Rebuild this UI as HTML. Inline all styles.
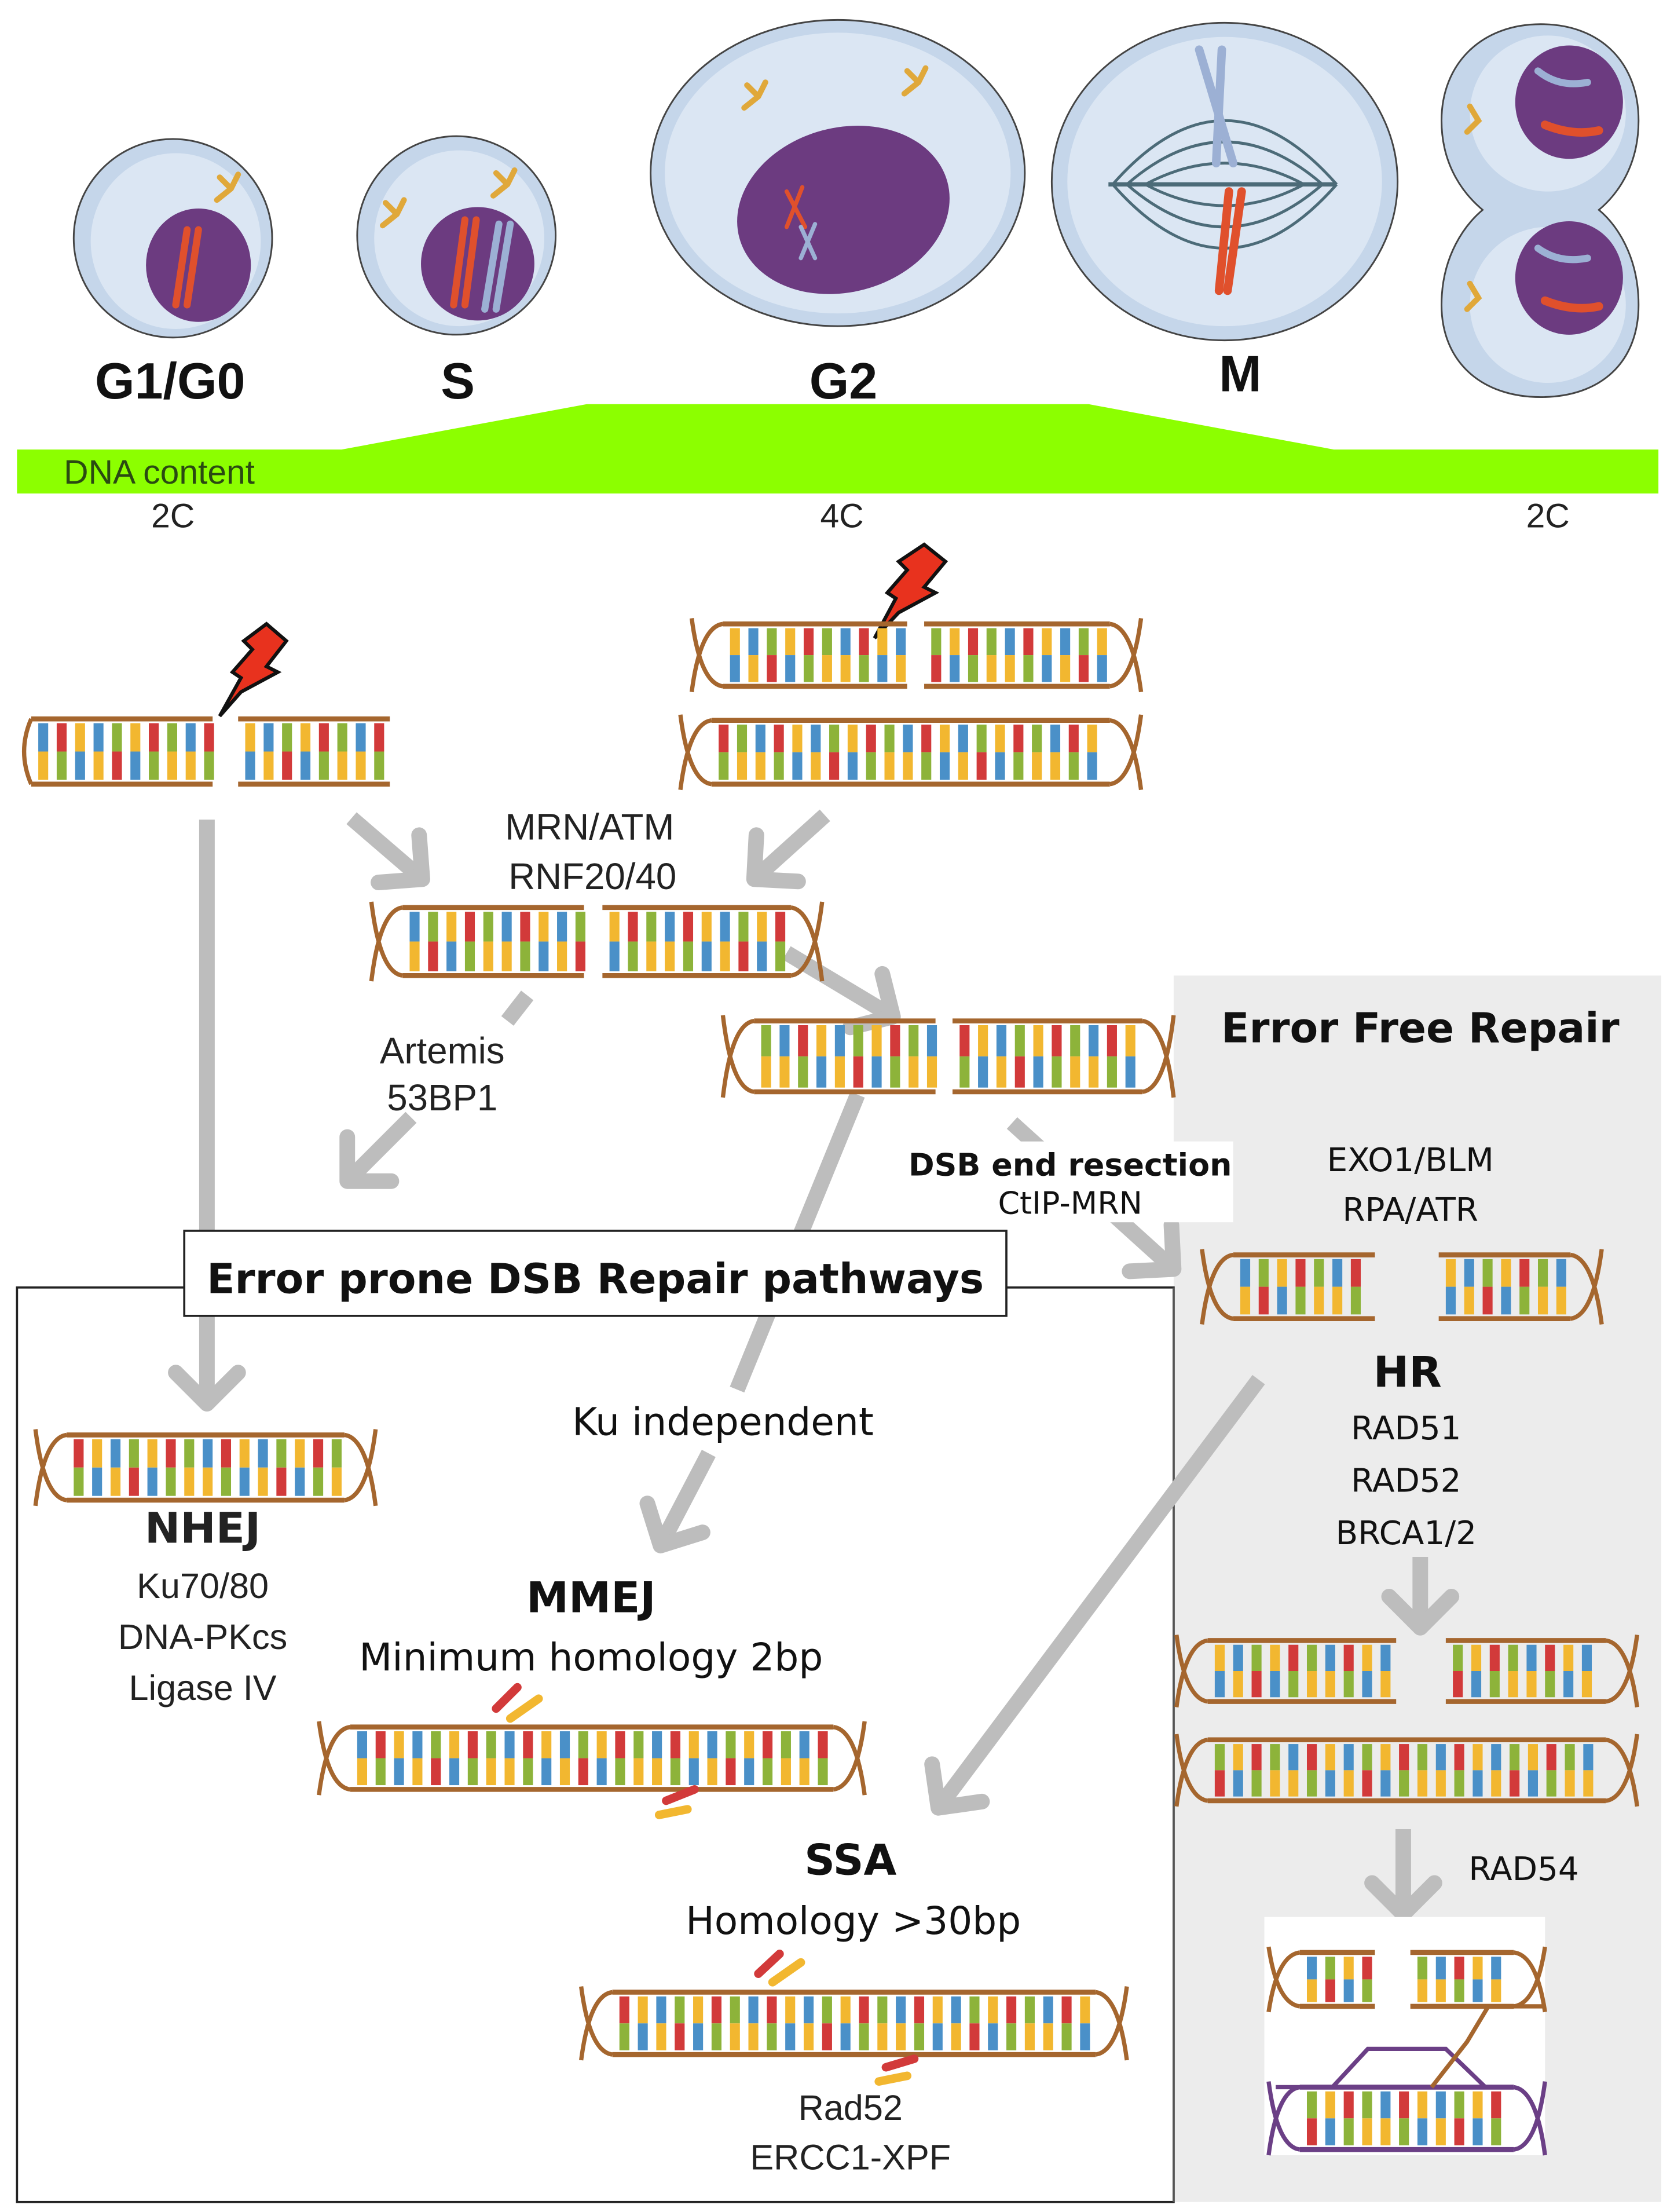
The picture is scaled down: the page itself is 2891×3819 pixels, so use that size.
<!DOCTYPE html>
<html><head><meta charset="utf-8">
<style>
html,body{margin:0;padding:0;background:#fff;}
svg{display:block;}
.c{font-family:"Liberation Sans Narrow","Liberation Sans",sans-serif;}
.v{font-family:"DejaVu Sans","Liberation Sans",sans-serif;}
</style></head>
<body>
<svg id="s" width="2891" height="3819" viewBox="0 0 1181 1560" xmlns="http://www.w3.org/2000/svg">
<defs>
<marker id="ah" markerUnits="userSpaceOnUse" markerWidth="60" markerHeight="60" refX="30" refY="30" orient="auto" viewBox="0 0 60 60">
<polyline points="8,8 30,30 8,52" fill="none" stroke="#bdbdbd" stroke-width="11" stroke-linecap="round" stroke-linejoin="round"/>
</marker>
</defs>
<rect width="1181" height="1560" fill="#fff"/>

<!-- Cells -->
<g stroke="#444" stroke-width="1.2">
<ellipse cx="122" cy="168" rx="70" ry="70" fill="#c5d6ea"/>
<ellipse cx="124" cy="170" rx="60" ry="62" fill="#dbe6f3" stroke="none"/>
<ellipse cx="140" cy="187" rx="37" ry="40" fill="#6c3b80" stroke="none"/>
<ellipse cx="322" cy="166" rx="70" ry="70" fill="#c5d6ea"/>
<ellipse cx="324" cy="168" rx="60" ry="62" fill="#dbe6f3" stroke="none"/>
<ellipse cx="337" cy="186" rx="40" ry="40" fill="#6c3b80" stroke="none"/>
<ellipse cx="591" cy="122" rx="132" ry="108" fill="#c5d6ea"/>
<ellipse cx="591" cy="122" rx="122" ry="99" fill="#dbe6f3" stroke="none"/>
<ellipse cx="595" cy="148" rx="76" ry="58" transform="rotate(-15 595 148)" fill="#6c3b80" stroke="none"/>
<ellipse cx="864" cy="128" rx="122" ry="112" fill="#c5d6ea"/>
<ellipse cx="864" cy="128" rx="111" ry="102" fill="#dbe6f3" stroke="none"/>
<path d="M1087,17 C1130,17 1156,45 1156,85 C1156,118 1140,138 1128,148 C1140,158 1156,180 1156,215 C1156,255 1130,280 1087,280 C1045,280 1017,255 1017,215 C1017,180 1034,158 1046,148 C1034,138 1017,118 1017,85 C1017,45 1045,17 1087,17Z" fill="#c5d6ea"/>
<ellipse cx="1092" cy="80" rx="55" ry="55" fill="#dbe6f3" stroke="none"/>
<ellipse cx="1092" cy="215" rx="55" ry="55" fill="#dbe6f3" stroke="none"/>
<ellipse cx="1107" cy="72" rx="38" ry="40" fill="#6c3b80" stroke="none"/>
<ellipse cx="1107" cy="196" rx="38" ry="40" fill="#6c3b80" stroke="none"/>
</g>
<!-- spindle -->
<g fill="none" stroke="#4c6b78" stroke-width="2">
<line x1="782" y1="130" x2="942" y2="130" stroke-width="3"/>
<path d="M785,130 Q864,40 943,130"/><path d="M795,130 Q864,70 933,130"/><path d="M808,130 Q864,100 920,130"/>
<path d="M785,130 Q864,220 943,130"/><path d="M795,130 Q864,190 933,130"/><path d="M808,130 Q864,160 920,130"/>
</g>
<!-- chromosomes -->
<g stroke-linecap="round" fill="none" stroke-width="5">
<path d="M132,162 L124,215 M140,162 L132,215" stroke="#e0502c"/>
<path d="M328,155 L320,215 M336,155 L328,215" stroke="#e0502c"/>
<path d="M352,158 L342,218 M360,158 L350,218" stroke="#9cb0d4"/>
<path d="M555,135 L568,160 M566,132 L555,160" stroke="#e0502c" stroke-width="3"/>
<path d="M565,160 L575,182 M575,158 L565,182" stroke="#9cb0d4" stroke-width="3"/>
<path d="M846,35 L870,115 M862,35 L858,115" stroke="#9cb0d4" stroke-width="6"/>
<path d="M867,135 L860,205 M876,135 L866,205" stroke="#e0502c" stroke-width="6"/>
<path d="M1085,50 Q1100,62 1120,58" stroke="#9cb0d4"/><path d="M1090,88 Q1110,96 1128,92" stroke="#e0502c" stroke-width="6"/>
<path d="M1085,175 Q1100,186 1120,182" stroke="#9cb0d4"/><path d="M1090,212 Q1110,220 1128,216" stroke="#e0502c" stroke-width="6"/>
</g>
<g stroke="#e0a83a" stroke-width="4" stroke-linecap="round" fill="none">
<path d="M155,125 l8,8 m0,0 l-10,8 m10,-8 l5,-10"/><path d="M350,122 l8,8 m0,0 l-10,8 m10,-8 l5,-10"/><path d="M272,143 l8,8 m0,0 l-10,8 m10,-8 l5,-10"/>
<path d="M527,60 l8,8 m0,0 l-10,8 m10,-8 l5,-10"/><path d="M640,50 l8,8 m0,0 l-10,8 m10,-8 l5,-10"/>
<path d="M1037,75 l6,10 l-8,8"/><path d="M1037,200 l6,10 l-8,8"/>
</g>

<g class="c" font-weight="bold" font-size="36" text-anchor="middle" fill="#111">
<text x="120" y="281">G1/G0</text><text x="323" y="281">S</text><text x="595" y="281">G2</text><text x="875" y="276">M</text>
</g>
<polygon points="12,317 241,317 414,285 768,285 941,317 1170,317 1170,348 12,348" fill="#8cff00"/>
<text class="c" x="45" y="341" font-size="24" fill="#2a4a12">DNA content</text>
<g class="c" font-size="24" text-anchor="middle" fill="#222">
<text x="122" y="372">2C</text><text x="594" y="372">4C</text><text x="1092" y="372">2C</text>
</g>

<!-- panels -->
<rect x="828" y="688" width="344" height="865" fill="#ececec"/>
<rect x="12" y="908" width="816" height="645" fill="none" stroke="#222" stroke-width="1.5"/>
<line x1="828" y1="908" x2="828" y2="1553" stroke="#555" stroke-width="1.5"/>

<!-- arrows -->
<g stroke="#bdbdbd" stroke-width="11" fill="none" stroke-linecap="butt">
<line x1="146" y1="578" x2="146" y2="990" marker-end="url(#ah)"/>
<line x1="248" y1="577" x2="298" y2="620" marker-end="url(#ah)"/>
<line x1="582" y1="575" x2="532" y2="620" marker-end="url(#ah)"/>
<line x1="372" y1="702" x2="358" y2="720"/>
<line x1="290" y1="788" x2="245" y2="833" marker-end="url(#ah)"/>
<line x1="555" y1="672" x2="630" y2="717" marker-end="url(#ah)"/>
<line x1="605" y1="772" x2="520" y2="980"/>
<line x1="500" y1="1025" x2="466" y2="1090" marker-end="url(#ah)"/>
<line x1="714" y1="792" x2="828" y2="895" marker-end="url(#ah)"/>
<line x1="888" y1="973" x2="662" y2="1275" marker-end="url(#ah)"/>
<line x1="1002" y1="1098" x2="1002" y2="1148" marker-end="url(#ah)"/>
<line x1="990" y1="1290" x2="990" y2="1350" marker-end="url(#ah)"/>
</g>

<rect x="640" y="805" width="230" height="57" fill="#fff"/>
<rect x="130" y="868" width="580" height="60" fill="#fff" stroke="#222" stroke-width="1.5"/>
<rect x="892" y="1352" width="198" height="168" fill="#fff"/>

<!-- lightning -->
<g fill="#e8321e" stroke="#111" stroke-width="2.5" stroke-linejoin="miter">
<polygon points="188,440 202,452 188,470 196,474 170,488 155,505 170,478 164,474 178,458 172,452"/>
<polygon points="652,384 667,396 652,414 660,418 634,432 617,450 632,422 626,418 640,402 634,396"/>
</g>

<g id="dna"></g>

<g class="c" font-size="26" text-anchor="middle" fill="#222">
<text x="416" y="592">MRN/ATM</text><text x="418" y="627">RNF20/40</text>
<text x="312" y="750">Artemis</text><text x="312" y="783">53BP1</text>
</g>
<g class="v" text-anchor="middle" fill="#111">
<text x="755" y="829" font-size="22" font-weight="bold">DSB end resection</text>
<text x="755" y="856" font-size="22">CtIP-MRN</text>
<text x="1002" y="735" font-size="29" font-weight="bold">Error Free Repair</text>
<text x="995" y="826" font-size="23">EXO1/BLM</text><text x="995" y="861" font-size="23">RPA/ATR</text>
<text x="993" y="978" font-size="30" font-weight="bold">HR</text>
<text x="992" y="1015" font-size="23">RAD51</text><text x="992" y="1052" font-size="23">RAD52</text><text x="992" y="1089" font-size="23">BRCA1/2</text>
<text x="1075" y="1326" font-size="23">RAD54</text>
<text x="420" y="912" font-size="29" font-weight="bold">Error prone DSB Repair pathways</text>
<text x="510" y="1012" font-size="27">Ku independent</text>
<text x="417" y="1137" font-size="30" font-weight="bold">MMEJ</text>
<text x="417" y="1178" font-size="27">Minimum homology 2bp</text>
<text x="600" y="1322" font-size="30" font-weight="bold">SSA</text>
<text x="602" y="1364" font-size="27">Homology &gt;30bp</text>
</g>
<g class="c" font-size="25" text-anchor="middle" fill="#222">
<text x="143" y="1088" font-size="30" font-weight="bold" class="v">NHEJ</text>
<text x="143" y="1127">Ku70/80</text><text x="143" y="1163">DNA-PKcs</text><text x="143" y="1199">Ligase IV</text>
<text x="600" y="1495">Rad52</text><text x="600" y="1530">ERCC1-XPF</text>
</g>
</svg>
<script>
(function(){
var g=document.getElementById('dna'),ns='http://www.w3.org/2000/svg';
var C=[['#4a90c8','#f2b730'],['#d23a3a','#8db33a'],['#f2b730','#4a90c8'],['#4a90c8','#f2b730'],['#8db33a','#d23a3a'],['#f2b730','#4a90c8'],['#d23a3a','#8db33a'],['#8db33a','#f2b730']];
var k=0;
function mk(tag,a){var e=document.createElementNS(ns,tag);for(var n in a)e.setAttribute(n,a[n]);g.appendChild(e);return e;}
function seg(x1,x2,y,h,L,R,bb){
 bb=bb||'#a5662e';
 var ix1=x1+(L=='x'?22:(L=='c'?10:0)), ix2=x2-(R=='x'?22:(R=='c'?10:0));
 for(var x=ix1+5;x<ix2-4;x+=13){var c=C[k++%C.length];
  mk('rect',{x:x,y:y+3,width:7,height:h/2-3,fill:c[0]});
  mk('rect',{x:x,y:y+h/2,width:7,height:h/2-3,fill:c[1]});}
 mk('line',{x1:ix1,y1:y,x2:ix2,y2:y,stroke:bb,'stroke-width':3.5});
 mk('line',{x1:ix1,y1:y+h,x2:ix2,y2:y+h,stroke:bb,'stroke-width':3.5});
 if(L=='x')mk('path',{d:'M'+ix1+','+y+' Q'+(x1+6)+','+(y+2)+' '+x1+','+(y+h+4)+' M'+ix1+','+(y+h)+' Q'+(x1+6)+','+(y+h-2)+' '+x1+','+(y-4),fill:'none',stroke:bb,'stroke-width':3});
 if(L=='c')mk('path',{d:'M'+ix1+','+y+' Q'+x1+','+(y+h/2)+' '+ix1+','+(y+h),fill:'none',stroke:bb,'stroke-width':3});
 if(R=='x')mk('path',{d:'M'+ix2+','+y+' Q'+(x2-6)+','+(y+2)+' '+x2+','+(y+h+4)+' M'+ix2+','+(y+h)+' Q'+(x2-6)+','+(y+h-2)+' '+x2+','+(y-4),fill:'none',stroke:bb,'stroke-width':3});
}
seg(12,150,507,46,'c','o');seg(168,275,507,46,'o','o');
seg(488,640,440,44,'x','o');seg(652,805,440,44,'o','x');seg(480,805,508,45,'x','x');
seg(262,412,640,48,'x','o');seg(425,580,640,48,'o','x');
seg(510,660,720,50,'x','o');seg(672,828,720,50,'o','x');
seg(848,970,885,45,'x','o');seg(1015,1130,885,45,'o','x');
seg(25,265,1012,46,'x','x');
seg(225,610,1218,44,'x','x');
seg(830,985,1157,43,'x','o');seg(1020,1155,1157,43,'o','x');seg(830,1155,1227,43,'x','x');
seg(410,795,1405,44,'x','x');
seg(895,970,1377,38,'x','o');seg(995,1090,1377,38,'o','x');seg(895,1090,1472,44,'x','x','#6b3f86');
mk('path',{d:'M900,1472 L940,1472 L965,1445 L1020,1445 L1048,1472',fill:'none',stroke:'#6b3f86','stroke-width':3});
mk('path',{d:'M1010,1472 L1035,1440 L1050,1415 L1090,1415',fill:'none',stroke:'#a5662e','stroke-width':3});
var fl=[[350,1205,365,1190,'#d23a3a'],[360,1212,380,1198,'#f2b730'],[470,1270,490,1262,'#d23a3a'],[465,1280,485,1276,'#f2b730'],[535,1392,550,1378,'#d23a3a'],[545,1398,565,1384,'#f2b730'],[625,1458,645,1452,'#d23a3a'],[620,1468,640,1464,'#f2b730']];
fl.forEach(function(f){mk('line',{x1:f[0],y1:f[1],x2:f[2],y2:f[3],stroke:f[4],'stroke-width':6,'stroke-linecap':'round'});});
})();
</script>
</body></html>
